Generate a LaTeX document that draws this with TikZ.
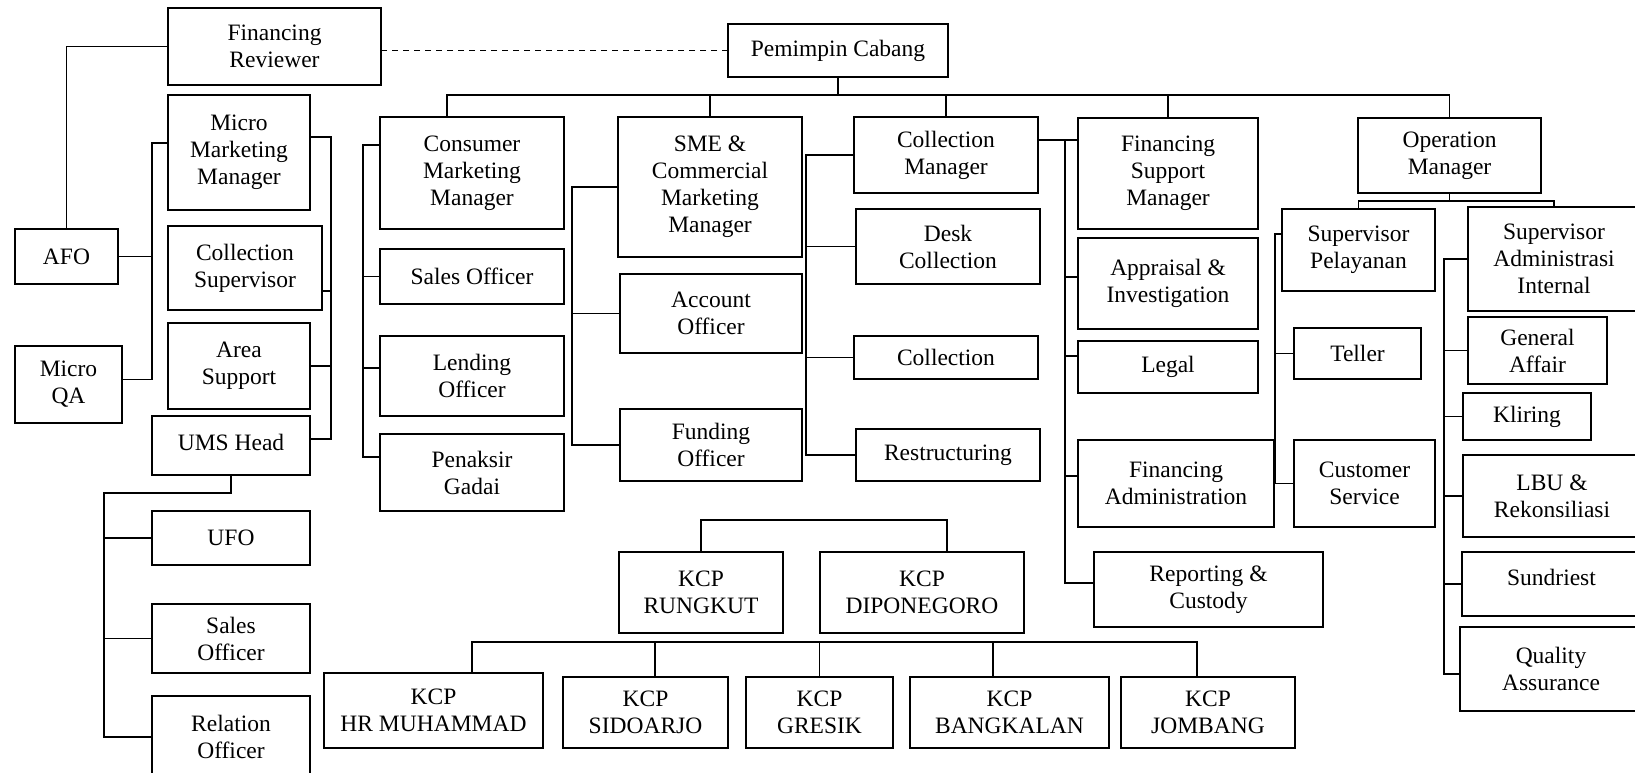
\documentclass[tikz,border=0pt]{standalone}
\usepackage{fontspec}
\setmainfont{Liberation Serif}
\tikzset{
  box/.style={draw, line width=1.5pt, inner sep=0pt, outer sep=0pt, align=center,
    font=\fontsize{23.5}{27}\selectfont},
  conn/.style={line width=1.5pt},
  dashconn/.style={line width=1.5pt, dashed, dash pattern=on 6pt off 5pt}
}
\newcommand\mybox[6]{\node[box,minimum width={#4-#2},minimum height={#5-#3}] (#1) at ({(#2+#4)/2},{(#3+#5)/2}) {#6};}
\begin{document}
\begin{tikzpicture}[x=1pt,y=-1pt]
\useasboundingbox (0,0) rectangle (1635,773);
\clip (0,0) rectangle (1635,773);
\fill[white] (0,0) rectangle (1635,773);
% left block
\mybox{finrev}{168}{8}{381}{85}{Financing\\Reviewer}
\mybox{mmm}{168}{95}{310}{210}{Micro\\Marketing\\Manager}
\mybox{colsup}{168}{226}{322}{310}{Collection\\Supervisor}
\mybox{areasup}{168}{323}{310}{409}{Area\\Support}
\mybox{ums}{152}{416}{310}{475}{\raisebox{3pt}[\height][\depth]{UMS Head}}
\mybox{afo}{15}{229}{118}{284}{AFO}
\mybox{mqa}{15}{346}{122}{423}{Micro\\QA}
\mybox{ufo}{152}{511}{310}{565}{UFO}
\mybox{sales2}{152}{604}{310}{673}{Sales\\Officer}
\mybox{relof}{152}{696}{310}{778}{Relation\\Officer}
% top
\mybox{pc}{728}{24}{948}{77}{Pemimpin Cabang}
\mybox{cmm}{380}{117}{564}{229}{Consumer\\Marketing\\Manager}
\mybox{sme}{618}{117}{802}{257}{SME \&\\Commercial\\Marketing\\Manager}
\mybox{colm}{854}{117}{1038}{193}{Collection\\Manager}
\mybox{fsm}{1078}{118}{1258}{229}{Financing\\Support\\Manager}
\mybox{opm}{1358}{118}{1541}{193}{Operation\\Manager}
% consumer group
\mybox{sales1}{380}{249}{564}{304}{Sales Officer}
\mybox{lend}{380}{336}{564}{416}{Lending\\Officer}
\mybox{pen}{380}{434}{564}{511}{Penaksir\\Gadai}
% sme group
\mybox{acc}{620}{274}{802}{353}{Account\\Officer}
\mybox{fund}{620}{409}{802}{481}{Funding\\Officer}
% collection group
\mybox{desk}{856}{209}{1040}{284}{Desk\\Collection}
\mybox{coll}{854}{336}{1038}{379}{Collection}
\mybox{restr}{856}{429}{1040}{481}{Restructuring}
% financing support group
\mybox{appr}{1078}{238}{1258}{329}{Appraisal \&\\Investigation}
\mybox{legal}{1078}{341}{1258}{393}{Legal}
\mybox{fadm}{1078}{440}{1274}{527}{Financing\\Administration}
\mybox{rep}{1094}{552}{1323}{627}{Reporting \&\\Custody}
% operation group
\mybox{sp}{1282}{209}{1435}{291}{Supervisor\\Pelayanan}
\mybox{sai}{1468}{207}{1640}{311}{Supervisor\\Administrasi\\Internal}
\mybox{teller}{1294}{328}{1421}{379}{Teller}
\mybox{cs}{1294}{440}{1435}{527}{Customer\\Service}
\mybox{ga}{1468}{317}{1607}{384}{General\\Affair}
\mybox{kl}{1463}{393}{1591}{440}{Kliring}
\mybox{lbu}{1463}{455}{1641}{537}{LBU \&\\Rekonsiliasi}
\mybox{sun}{1462}{552}{1641}{616}{\raisebox{7pt}[\height][\depth]{Sundriest}}
\mybox{qa}{1460}{627}{1642}{711}{Quality\\Assurance}
% KCP
\mybox{rung}{619}{552}{783}{633}{KCP\\RUNGKUT}
\mybox{dipo}{820}{552}{1024}{633}{KCP\\DIPONEGORO}
\mybox{hrm}{324}{673}{543}{748}{KCP\\HR MUHAMMAD}
\mybox{sid}{563}{677}{728}{748}{KCP\\SIDOARJO}
\mybox{gre}{746}{677}{893}{748}{KCP\\GRESIK}
\mybox{bang}{910}{677}{1109}{748}{KCP\\BANGKALAN}
\mybox{jom}{1121}{677}{1295}{748}{KCP\\JOMBANG}

% ---- connector helper points ----
\coordinate (lbus) at (152,0);
\coordinate (rbus) at (331,0);
\coordinate (ub) at (104,493);
\coordinate (tb) at (0,95);
\coordinate (cbus) at (363,0);
\coordinate (sbus) at (572,0);
\coordinate (kbus) at (806,0);
\coordinate (fbus) at (1065,0);
\coordinate (ob) at (0,201);
\coordinate (spb) at (1275,0);
\coordinate (sab) at (1444,0);
\coordinate (kt) at (0,520);
\coordinate (kb) at (0,642);
\coordinate (mmmW) at ([yshift=9.5pt]mmm.west);
\coordinate (mmmE) at ([yshift=15.5pt]mmm.east);
\coordinate (colsupE) at ([yshift=-23pt]colsup.east);
\coordinate (cmmN) at ([xshift=-25pt]cmm.north);
\coordinate (cmmW) at ([yshift=28pt]cmm.west);
\coordinate (lendW) at ([yshift=8pt]lend.west);
\coordinate (penW) at ([yshift=15.5pt]pen.west);
\coordinate (colmE) at ([yshift=15pt]colm.east);
\coordinate (apprW) at ([yshift=6.5pt]appr.west);
\coordinate (legalW) at ([yshift=11pt]legal.west);
\coordinate (fadmW) at ([yshift=7.5pt]fadm.west);
\coordinate (repW) at ([yshift=6.5pt]rep.west);
\coordinate (spW) at ([yshift=16pt]sp.west);
\coordinate (qaW) at ([yshift=-5pt]qa.west);
\coordinate (mqaE) at ([yshift=5pt]mqa.east);
\coordinate (umsE) at ([yshift=6.5pt]ums.east);
\coordinate (dipoN) at ([xshift=25pt]dipo.north);
\coordinate (hrmN) at ([xshift=38.5pt]hrm.north);
\coordinate (sidN) at ([xshift=9.5pt]sid.north);
\coordinate (bangN) at ([xshift=-16.5pt]bang.north);
\coordinate (jomN) at ([xshift=-11pt]jom.north);

% left
\draw[conn] (afo.north) |- (finrev.west);
\draw[conn] (mmmW) -| (lbus |- mqaE) -- (mqaE);
\draw[conn] (afo.east) -- (afo.east -| lbus);
\draw[conn] (mmmE) -| (rbus |- umsE) -- (umsE);
\draw[conn] (colsupE) -- (colsupE -| rbus);
\draw[conn] (areasup.east) -- (areasup.east -| rbus);
\draw[conn] (ums.south) |- (ub) |- (relof.west);
\draw[conn] (ufo.west) -- (ufo.west -| ub);
\draw[conn] (sales2.west) -- (sales2.west -| ub);
\draw[dashconn] (pc.west) -- (pc.west -| finrev.east);

% top bus
\draw[conn] (pc.south) -- (pc.south |- tb);
\draw[conn] (cmmN) |- (opm.north |- tb) -- (opm.north);
\draw[conn] (sme.north) -- (sme.north |- tb);
\draw[conn] (colm.north) -- (colm.north |- tb);
\draw[conn] (fsm.north) -- (fsm.north |- tb);

% consumer
\draw[conn] (cmmW) -| (cbus |- penW) -- (penW);
\draw[conn] (sales1.west) -- (sales1.west -| cbus);
\draw[conn] (lendW) -- (lendW -| cbus);

% sme
\draw[conn] (sme.west) -| (sbus |- fund.west) -- (fund.west);
\draw[conn] (acc.west) -- (acc.west -| sbus);

% collection
\draw[conn] (colm.west) -| (kbus |- restr.west) -- (restr.west);
\draw[conn] (desk.west) -- (desk.west -| kbus);
\draw[conn] (coll.west) -- (coll.west -| kbus);
\draw[conn] (colmE) -- (colmE -| fsm.west);

% financing support
\draw[conn] (fbus |- colmE) |- (repW);
\draw[conn] (apprW) -- (apprW -| fbus);
\draw[conn] (legalW) -- (legalW -| fbus);
\draw[conn] (fadmW) -- (fadmW -| fbus);

% operation
\draw[conn] (opm.south) -- (opm.south |- ob);
\draw[conn] (sp.north) |- (sai.north |- ob) -- (sai.north);
\draw[conn] (spW) -| (spb |- cs.west) -- (cs.west);
\draw[conn] (teller.west) -- (teller.west -| spb);
\draw[conn] (sai.west) -| (sab |- qaW) -- (qaW);
\draw[conn] (ga.west) -- (ga.west -| sab);
\draw[conn] (kl.west) -- (kl.west -| sab);
\draw[conn] (lbu.west) -- (lbu.west -| sab);
\draw[conn] (sun.west) -- (sun.west -| sab);

% KCP
\draw[conn] (rung.north) |- (dipoN |- kt) -- (dipoN);
\draw[conn] (hrmN) |- (jomN |- kb) -- (jomN);
\draw[conn] (sidN) -- (sidN |- kb);
\draw[conn] (gre.north) -- (gre.north |- kb);
\draw[conn] (bangN) -- (bangN |- kb);
\end{tikzpicture}
\end{document}
